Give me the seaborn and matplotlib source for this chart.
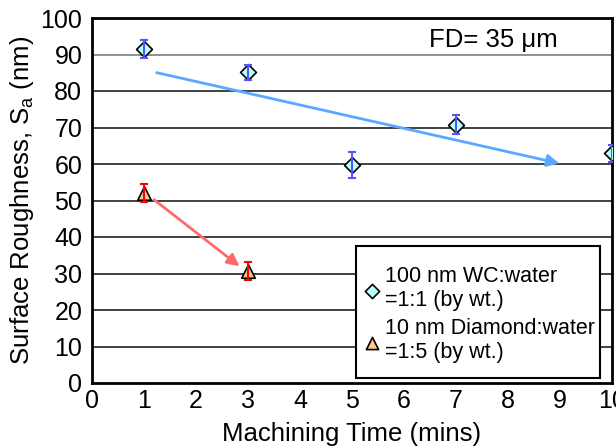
import matplotlib
matplotlib.use("Agg")
import matplotlib.pyplot as plt
from matplotlib.patches import Rectangle
import seaborn as sns
import pandas as pd
import numpy as np

# data
wc_time = [1, 3, 5, 7, 10]
wc_sa = [91.5, 85.1, 59.7, 70.8, 62.9]
wc_err = [2.4, 2.0, 3.5, 2.6, 2.3]
dia_time = [1, 3]
dia_sa = [52.0, 30.6]
dia_err = [2.5, 2.5]
wc_label = "100 nm WC:water\n=1:1 (by wt.)"
dia_label = "10 nm Diamond:water\n=1:5 (by wt.)"
blue_arrow = [(1.19, 85.2), (9.04, 60.0)]
red_arrow = [(1.15, 50.7), (2.88, 31.5)]

sns.set_style("white")
plt.rcParams['font.family'] = ['Liberation Sans', 'DejaVu Sans']
plt.rcParams['mathtext.fontset'] = 'custom'
plt.rcParams['mathtext.rm'] = 'Liberation Sans'
plt.rcParams['mathtext.it'] = 'Liberation Sans'
plt.rcParams['text.color'] = 'black'
plt.rcParams['axes.labelcolor'] = 'black'

fig = plt.figure(figsize=(6.16, 4.46), dpi=100)
ax = fig.add_axes([92/616, 1-383/446, 520/616, 365/446])

for y in range(10, 100, 10):
    ax.axhline(y, color='#333333' if y != 90 else '#888888', lw=1.3, zorder=1)

# arrows
ax.annotate("", xy=blue_arrow[1], xytext=blue_arrow[0],
            arrowprops=dict(arrowstyle="-|>", color="#5aa8ff", lw=2, mutation_scale=18), zorder=2)
ax.annotate("", xy=red_arrow[1], xytext=red_arrow[0],
            arrowprops=dict(arrowstyle="-|>", color="#ff6b6b", lw=2, mutation_scale=18), zorder=2)

df_wc = pd.DataFrame({"t": wc_time, "sa": wc_sa})
df_dia = pd.DataFrame({"t": dia_time, "sa": dia_sa})
sns.scatterplot(data=df_wc, x="t", y="sa", marker="D", s=65, color="#b8ffff",
                edgecolor="black", linewidth=1.2, ax=ax, zorder=3, label=wc_label)
sns.scatterplot(data=df_dia, x="t", y="sa", marker="^", s=95, color="#ffc58a",
                edgecolor="black", linewidth=1.2, ax=ax, zorder=3, label=dia_label)
ax.errorbar(wc_time, wc_sa, yerr=wc_err, fmt='none', ecolor='#5555ff', capsize=3, elinewidth=1.5, capthick=1.5, zorder=5)
ax.errorbar(dia_time, dia_sa, yerr=dia_err, fmt='none', ecolor='#ff0000', capsize=3, elinewidth=1.5, capthick=1.5, zorder=5)

ax.set_xlim(0, 10)
ax.set_ylim(0, 100)
ax.set_xticks(range(0, 11))
ax.set_yticks(range(0, 101, 10))
ax.tick_params(axis='both', direction='in', length=9, width=1.5, labelsize=18, colors='black', pad=4)
ax.tick_params(axis='y', length=0, pad=7)
for s in ax.spines.values():
    s.set_linewidth(2)
    s.set_color('black')
ax.set_xlabel("Machining Time (mins)", fontsize=18.5, labelpad=7)
ax.set_ylabel("Surface Roughness, S$_\\mathregular{a}$ (nm)", fontsize=18.5, labelpad=3)

ax.text(0.896, 0.94, "FD= 35 μm", transform=ax.transAxes, ha='right', va='center', fontsize=18.5)

# legend box frame
ax.add_patch(Rectangle((0.508, 0.0137), 0.977 - 0.508, 0.375 - 0.0137, transform=ax.transAxes,
                       facecolor='white', edgecolor='black', lw=1.5, zorder=6))
leg = ax.legend(loc='upper left', bbox_to_anchor=(0.517, 0.32), fontsize=15.5, frameon=False,
                handletextpad=0.1, borderpad=0.0, labelspacing=0.35, handlelength=1.0,
                borderaxespad=0.0, markerscale=0.9)
for t in leg.get_texts():
    t.set_linespacing(1.15)
leg.set_zorder(7)

fig.savefig("out.png", dpi=100)
